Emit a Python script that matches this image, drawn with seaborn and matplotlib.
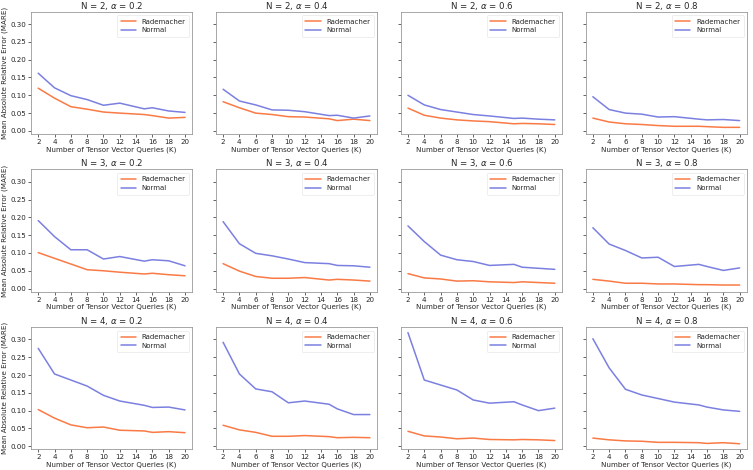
import matplotlib
matplotlib.use("Agg")
import matplotlib.pyplot as plt
import seaborn as sns
import pandas as pd

# query counts K (the kink between 12 and 16 sits at 15)
K = [2, 4, 6, 8, 10, 12, 15, 16, 18, 20]
N_values = [2, 3, 4]
alpha_values = [0.2, 0.4, 0.6, 0.8]

# MARE, one list per (N, alpha)
rademacher = {
    (2, 0.2): [0.120, 0.092, 0.068, 0.061, 0.053, 0.050, 0.046, 0.043, 0.036, 0.038],
    (2, 0.4): [0.082, 0.065, 0.050, 0.046, 0.040, 0.039, 0.034, 0.029, 0.033, 0.029],
    (2, 0.6): [0.064, 0.044, 0.036, 0.031, 0.028, 0.026, 0.020, 0.021, 0.020, 0.018],
    (2, 0.8): [0.036, 0.025, 0.020, 0.018, 0.015, 0.013, 0.013, 0.012, 0.010, 0.010],
    (3, 0.2): [0.101, 0.085, 0.069, 0.053, 0.050, 0.046, 0.041, 0.043, 0.039, 0.036],
    (3, 0.4): [0.070, 0.049, 0.034, 0.029, 0.029, 0.031, 0.024, 0.026, 0.024, 0.021],
    (3, 0.6): [0.042, 0.030, 0.027, 0.021, 0.022, 0.019, 0.017, 0.019, 0.017, 0.015],
    (3, 0.8): [0.026, 0.021, 0.015, 0.015, 0.013, 0.013, 0.011, 0.011, 0.010, 0.010],
    (4, 0.2): [0.103, 0.079, 0.060, 0.052, 0.054, 0.045, 0.043, 0.039, 0.041, 0.038],
    (4, 0.4): [0.059, 0.046, 0.039, 0.028, 0.028, 0.030, 0.027, 0.024, 0.025, 0.024],
    (4, 0.6): [0.042, 0.029, 0.026, 0.021, 0.023, 0.019, 0.018, 0.019, 0.018, 0.016],
    (4, 0.8): [0.023, 0.018, 0.015, 0.014, 0.011, 0.011, 0.010, 0.008, 0.010, 0.007],
}
normal = {
    (2, 0.2): [0.162, 0.121, 0.099, 0.088, 0.072, 0.078, 0.062, 0.065, 0.056, 0.052],
    (2, 0.4): [0.117, 0.084, 0.073, 0.059, 0.058, 0.054, 0.043, 0.044, 0.036, 0.042],
    (2, 0.6): [0.100, 0.073, 0.060, 0.053, 0.046, 0.042, 0.035, 0.036, 0.033, 0.031],
    (2, 0.8): [0.096, 0.060, 0.050, 0.047, 0.039, 0.040, 0.033, 0.031, 0.032, 0.029],
    (3, 0.2): [0.191, 0.146, 0.109, 0.109, 0.083, 0.090, 0.077, 0.081, 0.078, 0.064],
    (3, 0.4): [0.188, 0.126, 0.099, 0.092, 0.083, 0.073, 0.070, 0.065, 0.064, 0.060],
    (3, 0.6): [0.176, 0.132, 0.094, 0.081, 0.076, 0.065, 0.068, 0.060, 0.057, 0.054],
    (3, 0.8): [0.171, 0.125, 0.107, 0.086, 0.088, 0.062, 0.068, 0.062, 0.051, 0.058],
    (4, 0.2): [0.275, 0.203, 0.186, 0.169, 0.143, 0.127, 0.115, 0.109, 0.110, 0.102],
    (4, 0.4): [0.292, 0.203, 0.161, 0.153, 0.122, 0.127, 0.118, 0.105, 0.089, 0.089],
    (4, 0.6): [0.319, 0.186, 0.172, 0.158, 0.130, 0.121, 0.125, 0.116, 0.100, 0.107],
    (4, 0.8): [0.302, 0.220, 0.160, 0.144, 0.134, 0.124, 0.116, 0.110, 0.102, 0.098],
}

rows = []
for (n, a), vals in rademacher.items():
    for k, v in zip(K, vals):
        rows.append({"N": n, "alpha": a, "K": k, "MARE": v, "Distribution": "Rademacher"})
for (n, a), vals in normal.items():
    for k, v in zip(K, vals):
        rows.append({"N": n, "alpha": a, "K": k, "MARE": v, "Distribution": "Normal"})
df = pd.DataFrame(rows)

sns.set_style("ticks", {"axes.edgecolor": "0.6", "xtick.color": "0.15", "ytick.color": "0.15"})
plt.rcParams['font.family'] = ['DejaVu Sans']

palette = {"Rademacher": "#fa7a45", "Normal": "#7b80e0"}

fig, axes = plt.subplots(3, 4, figsize=(7.53, 4.70), dpi=100, sharey=True)
for i, n in enumerate(N_values):
    for j, a in enumerate(alpha_values):
        ax = axes[i, j]
        sub = df[(df["N"] == n) & (df["alpha"] == a)]
        sns.lineplot(data=sub, x="K", y="MARE", hue="Distribution", palette=palette,
                     hue_order=["Rademacher", "Normal"], linewidth=1.1, ax=ax)
        ax.set_title(f"N = {n}, $\\alpha$ = {a}", fontsize=6.2, pad=1.8)
        ax.set_xlabel("Number of Tensor Vector Queries (K)", fontsize=5.1, labelpad=1)
        if j == 0:
            ax.set_ylabel("Mean Absolute Relative Error (MARE)", fontsize=5.1, labelpad=1.5)
        else:
            ax.set_ylabel("")
        ax.set_xticks(range(2, 21, 2))
        ax.set_yticks([0.0, 0.05, 0.10, 0.15, 0.20, 0.25, 0.30])
        ax.yaxis.set_major_formatter(matplotlib.ticker.FormatStrFormatter("%.2f"))
        ax.tick_params(labelsize=5.1, length=2, width=0.5, pad=1.5)
        for s in ax.spines.values():
            s.set_linewidth(0.6)
        leg = ax.legend(loc="upper right", fontsize=5.0, frameon=True, handlelength=2.2,
                        borderpad=0.5, labelspacing=0.4)
        leg.get_frame().set_linewidth(0.4)
        leg.get_frame().set_edgecolor("0.85")

plt.subplots_adjust(left=0.041, right=0.992, top=0.975, bottom=0.044, wspace=0.145, hspace=0.29)
plt.savefig("out.png", dpi=100)
